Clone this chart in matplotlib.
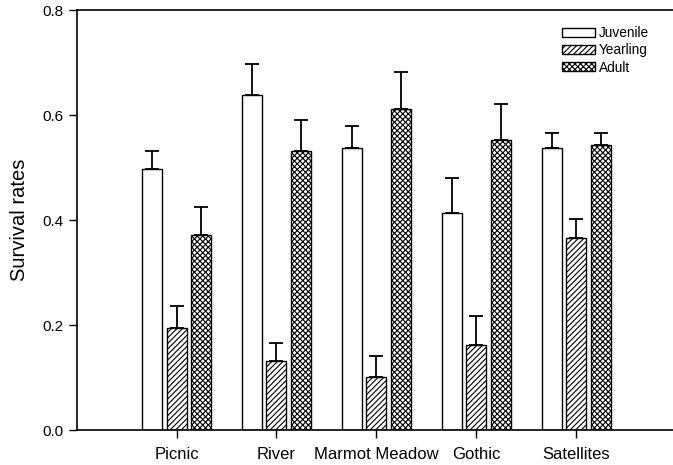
import matplotlib.pyplot as plt
import numpy as np

plt.rcParams['font.family'] = ['Liberation Sans', 'DejaVu Sans']
plt.rcParams['hatch.linewidth'] = 0.8

sites = ['Picnic', 'River', 'Marmot Meadow', 'Gothic', 'Satellites']
stages = ['Juvenile', 'Yearling', 'Adult']
juvenile = [0.497, 0.639, 0.538, 0.413, 0.538]
juvenile_se = [0.035, 0.059, 0.041, 0.068, 0.029]
yearling = [0.195, 0.131, 0.101, 0.162, 0.366]
yearling_se = [0.042, 0.035, 0.041, 0.055, 0.037]
adult = [0.371, 0.531, 0.611, 0.552, 0.543]
adult_se = [0.054, 0.059, 0.072, 0.070, 0.024]

means = [juvenile, yearling, adult]
errs = [juvenile_se, yearling_se, adult_se]
hatches = ['', '//////', 'xxxxxx']

fig = plt.figure(figsize=(6.73, 4.65), dpi=100)
ax = fig.add_axes([77/673, 35/465, 1 - 77/673, (430 - 10.3)/465])

x = np.arange(len(sites))
w = 0.2
off = 0.245
for i in range(3):
    xs = x + (i - 1)*off
    ax.bar(xs, means[i], w, color='white', edgecolor='black', linewidth=1.0,
           hatch=hatches[i], label=stages[i], zorder=2)
    ax.errorbar(xs, means[i], yerr=[np.zeros(len(sites)), errs[i]], fmt='none',
                ecolor='black', elinewidth=1.3, capsize=4.7, capthick=1.3, zorder=1)

ax.set_xlim(-0.997, 4.97)
ax.set_ylim(0, 0.8)
ax.set_yticks([0.0, 0.2, 0.4, 0.6, 0.8])
ax.set_yticklabels(['0.0', '0.2', '0.4', '0.6', '0.8'])
ax.set_xticks(x)
ax.set_xticklabels(sites, fontsize=12)
ax.tick_params(axis='y', labelsize=11, direction='out', length=6, width=1, pad=4)
ax.tick_params(axis='x', direction='out', length=6, width=1, pad=6)
ax.spines['right'].set_visible(False)
for s in ['left', 'top', 'bottom']:
    ax.spines[s].set_linewidth(1.2)
ax.set_ylabel('Survival rates', fontsize=14.5, labelpad=9)

ax.legend(loc='upper left', bbox_to_anchor=(562/673, 1 - 26/465),
          bbox_transform=fig.transFigure, frameon=False, fontsize=9.8,
          handlelength=2.43, handleheight=0.62, handletextpad=0.3,
          labelspacing=0.24, borderpad=0, borderaxespad=0)

fig.savefig('out.png', dpi=100)
